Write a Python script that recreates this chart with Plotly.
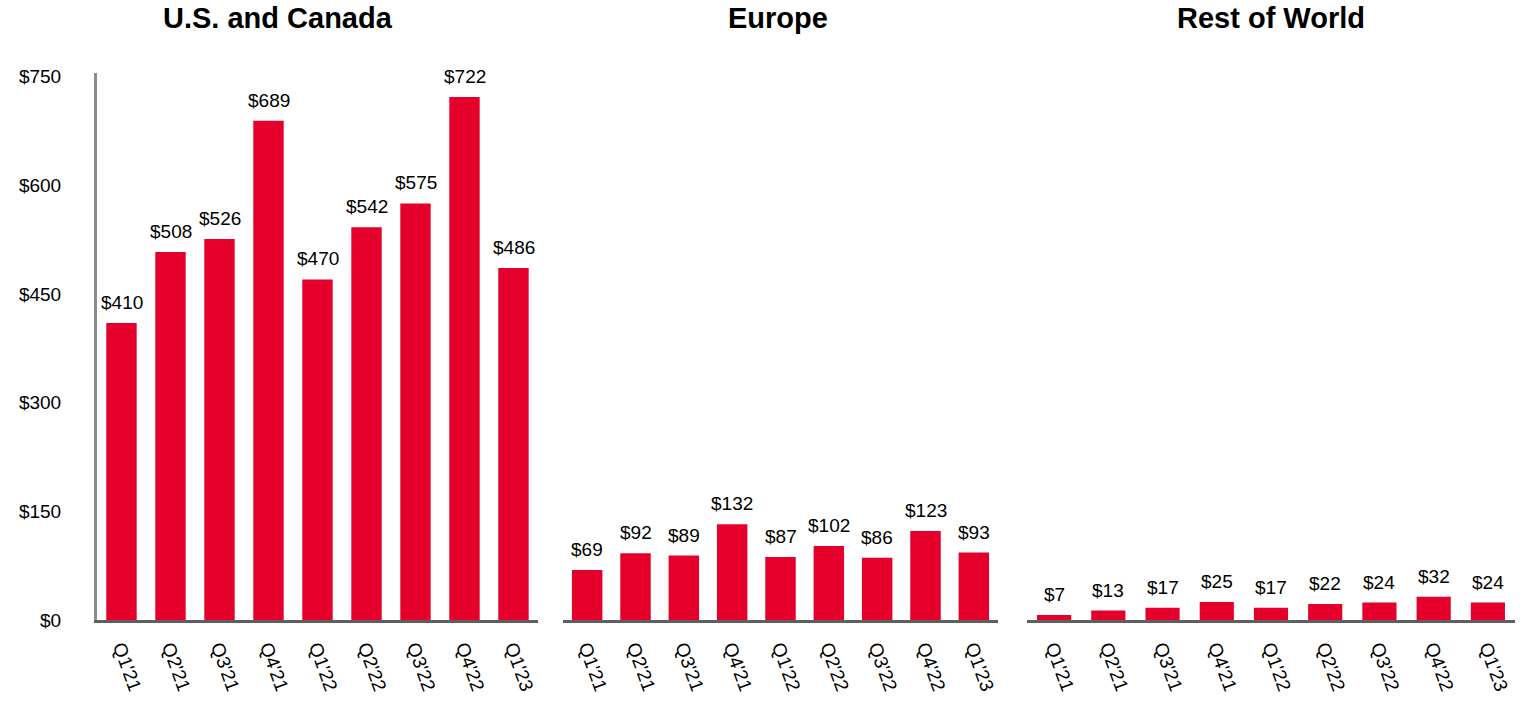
import plotly.graph_objects as go

quarters = ["Q1'21", "Q2'21", "Q3'21", "Q4'21", "Q1'22", "Q2'22", "Q3'22", "Q4'22", "Q1'23"]
us_canada = [410, 508, 526, 689, 470, 542, 575, 722, 486]
europe = [69, 92, 89, 132, 87, 102, 86, 123, 93]
rest_of_world = [7, 13, 17, 25, 17, 22, 24, 32, 24]
panel_titles = ["U.S. and Canada", "Europe", "Rest of World"]
y_ticks = [0, 150, 300, 450, 600, 750]

W, H = 1526, 701
TOP, BOT = 73, 81
PH = H - TOP - BOT
RED = "#E4002B"
FONT = "Liberation Sans, Arial, sans-serif"

series = [us_canada, europe, rest_of_world]
widths = [0.62, 0.63, 0.63]
domains = [(97, 538), (563, 998), (1027, 1515)]
title_x = [278, 778, 1271]

fig = go.Figure()
annotations = []
for i, (vals, w) in enumerate(zip(series, widths)):
    sfx = "" if i == 0 else str(i + 1)
    fig.add_trace(go.Bar(
        x=quarters, y=vals, width=w,
        marker=dict(color=RED, line=dict(width=0)),
        xaxis="x" + sfx, yaxis="y" + sfx,
        showlegend=False, hoverinfo="skip",
    ))
    for q, v in zip(quarters, vals):
        annotations.append(dict(
            x=q, y=v, xref="x" + sfx, yref="y" + sfx,
            text=f"${v}", showarrow=False,
            xanchor="center", yanchor="bottom", yshift=8,
            font=dict(family=FONT, size=19, color="black"),
        ))

layout = dict(
    width=W, height=H,
    margin=dict(l=0, r=0, t=TOP, b=BOT),
    paper_bgcolor="white", plot_bgcolor="white",
    font=dict(family=FONT, size=19, color="black"),
)
for i in range(3):
    sfx = "" if i == 0 else str(i + 1)
    d0, d1 = domains[i]
    layout["xaxis" + sfx] = dict(
        domain=[d0 / W, d1 / W], anchor="y" + sfx,
        showline=True, linecolor="#5f5f5f", linewidth=3,
        showgrid=False, zeroline=False, ticks="",
        tickangle=70, ticklabelstandoff=6,
        tickfont=dict(family=FONT, size=19, color="black"),
        fixedrange=True,
    )
    ya = dict(
        range=[0, 755], anchor="x" + sfx, domain=[0, 1],
        showgrid=False, zeroline=False, fixedrange=True,
    )
    if i == 0:
        ya.update(showline=True, linecolor="#8c8c8c", linewidth=3,
                  tickvals=y_ticks, ticktext=[f"${v}" for v in y_ticks],
                  ticks="", ticklabelstandoff=29,
                  tickfont=dict(family=FONT, size=19, color="black"))
    else:
        ya.update(showline=False, showticklabels=False, ticks="")
    layout["yaxis" + sfx] = ya
    annotations.append(dict(
        text=f"<b>{panel_titles[i]}</b>", x=title_x[i] / W,
        y=1 + (TOP - 18) / PH,
        xref="paper", yref="paper", xanchor="center", yanchor="middle",
        showarrow=False,
        font=dict(family=FONT, size=29, color="black"),
    ))

layout["annotations"] = annotations
fig.update_layout(**layout)
fig.write_html("out.html")
